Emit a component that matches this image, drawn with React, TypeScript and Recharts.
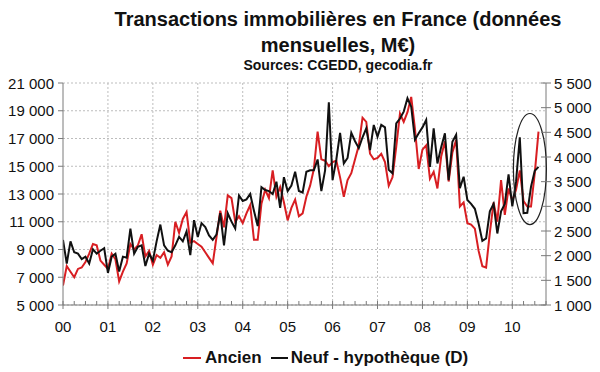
import React from 'react';
import { LineChart, Line, XAxis, YAxis, CartesianGrid, ReferenceLine, ReferenceDot, Legend } from 'recharts';

// Monthly values, Jan 2000 .. Aug 2010
const ancien = [
  6400, 7800, 7400, 7000, 7600, 7700, 8100, 8700, 9400, 9300, 8200, 7900,
  7600, 8700, 8300, 6700, 7400, 8000, 9400, 9000, 9300, 10100, 8500, 8900,
  7900, 8600, 8400, 8800, 7900, 8500, 11000, 10200, 11200, 11700, 9500, 9600,
  9400, 9200, 8800, 8400, 8000, 9900, 11800, 10600, 12900, 12700, 11000, 11400,
  10900, 11600, 12200, 9700, 9700, 12300, 13300, 12700, 14700, 12800, 13500, 12400,
  11100, 12000, 12600, 11400, 11600, 12800, 13600, 14800, 17500, 15500, 15400, 15000,
  15300, 15400, 14200, 12800, 14000, 14500, 15500, 16500, 18500, 18200, 15900, 15500,
  15600, 15900, 15300, 13600, 14200, 16400, 18800, 18200, 18900, 20000, 17700, 14800,
  16200, 16500, 14100, 14600, 13400, 15700, 16800, 13900, 16000, 16900, 12100, 12400,
  10900, 10800, 10500, 8900, 7800, 7700, 10200, 12400, 11000, 14000, 11500, 13400,
  12500, 13300, 14700, 12500, 12100, 12100, 14500, 17500,
];

const neufHypotheque = [
  2320, 1840, 2290, 2070, 2040, 1930, 1980, 1840, 2130, 2040, 2100, 2150,
  1650, 1980, 2040, 1680, 1980, 1960, 2550, 2040, 2180, 2210, 1790, 2040,
  1900, 2290, 2630, 2210, 2100, 2070, 2210, 2380, 2290, 2490, 2010, 2720,
  2380, 2660, 2580, 2410, 2320, 2430, 2860, 2210, 2860, 2690, 2550, 3220,
  3110, 3140, 3250, 2910, 2600, 3390, 3330, 3310, 3250, 3500, 2970, 3590,
  3310, 3420, 3700, 3310, 3280, 3700, 3730, 3730, 3950, 3310, 3730, 5110,
  3530, 3950, 4490, 3870, 3980, 4490, 4320, 4180, 4400, 4580, 4140, 4650,
  4410, 4650, 4600, 3740, 3670, 4680, 4780, 4920, 5190, 5020, 4350, 4480,
  4600, 4750, 3800, 4580, 3870, 4200, 4480, 3530, 4310, 4450, 3370, 3600,
  3130, 3050, 2950, 2650, 2300, 2350, 2900, 3050, 2450, 2900, 3050, 3650,
  3000, 3500, 4400, 2860, 2870, 3400, 3720, 3800,
];

const yearLabels = ['00', '01', '02', '03', '04', '05', '06', '07', '08', '09', '10'];
const leftTicks = [5000, 7000, 9000, 11000, 13000, 15000, 17000, 19000, 21000];
const rightTicks = [1000, 1500, 2000, 2500, 3000, 3500, 4000, 4500, 5000, 5500];
const monthTicks = [
  0, 3, 6, 9, 12, 15, 18, 21, 24, 27, 30, 33, 36, 39, 42, 45, 48, 51, 54, 57, 60, 63,
  66, 69, 72, 75, 78, 81, 84, 87, 90, 93, 96, 99, 102, 105, 108, 111, 114, 117, 120,
  123, 126, 129,
];
const yearStarts = [12, 24, 36, 48, 60, 72, 84, 96, 108, 120];

// ellipse annotation centre (month index, left-axis value)
const circleMonth = 124.7;
const circleValue = 14800;

const data = ancien.map((v, i) => ({ m: i, ancien: v, neuf: neufHypotheque[i] }));

const FONT = 'Arial, "Liberation Sans", sans-serif';
const AXIS_COLOR = '#7a7a7a';
const RED = '#d81e22';
const TICK_FONT = 15;

const fmt = (v: number) => {
  const s = String(v);
  return s.length > 3 ? s.slice(0, s.length - 3) + ' ' + s.slice(s.length - 3) : s;
};

const XTick = (props: any) => {
  const { x, y, payload } = props;
  const major = payload.value % 12 === 0;
  const idx = payload.value / 12;
  return (
    <g>
      <line x1={x} x2={x} y1={y - 4} y2={major ? y + 4 : y} stroke={AXIS_COLOR} strokeWidth={1} />
      {major && idx < yearLabels.length ? (
        <text x={x} y={y + 21} textAnchor="middle" dominantBaseline="central" fontSize={TICK_FONT} fontFamily={FONT} fill="#111">
          {yearLabels[idx]}
        </text>
      ) : null}
    </g>
  );
};

const LeftTick = (props: any) => {
  const { x, y, payload } = props;
  return (
    <g>
      <line x1={x - 5} x2={x} y1={y} y2={y} stroke={AXIS_COLOR} strokeWidth={1} />
      <text x={x - 9} y={y} textAnchor="end" dominantBaseline="central" fontSize={TICK_FONT} fontFamily={FONT} fill="#111">
        {fmt(payload.value)}
      </text>
    </g>
  );
};

const RightTick = (props: any) => {
  const { x, y, payload } = props;
  return (
    <g>
      <line x1={x - 5} x2={x + 5} y1={y} y2={y} stroke={AXIS_COLOR} strokeWidth={1} />
      <text x={x + 8} y={y} textAnchor="start" dominantBaseline="central" fontSize={TICK_FONT} fontFamily={FONT} fill="#111">
        {fmt(payload.value)}
      </text>
    </g>
  );
};

const LegendContent = () => (
  <div
    style={{
      display: 'flex',
      alignItems: 'center',
      paddingLeft: 183,
      paddingTop: 11,
      fontFamily: FONT,
      fontWeight: 'bold',
      fontSize: 17,
      color: '#111',
      whiteSpace: 'nowrap',
    }}
  >
    <span style={{ display: 'inline-block', width: 18, height: 2, background: RED, marginRight: 4 }} />
    <span style={{ marginRight: 9 }}>Ancien</span>
    <span style={{ display: 'inline-block', width: 17, height: 2, background: '#111', marginRight: 3 }} />
    <span>Neuf - hypothèque (D)</span>
  </div>
);

export default function App() {
  return (
    <div style={{ position: 'absolute', left: 0, top: 0, width: 600, height: 372, background: '#fff' }}>
      <div
        style={{
          position: 'absolute', left: 38, top: 7, width: 600, textAlign: 'center',
          fontFamily: FONT, fontWeight: 'bold', fontSize: 20, lineHeight: '24px', color: '#111',
        }}
      >
        <div>Transactions immobilières en France (données</div>
        <div style={{ marginTop: 2 }}>mensuelles, M€)</div>
      </div>
      <div
        style={{
          position: 'absolute', left: 38, top: 57, width: 600, textAlign: 'center',
          fontFamily: FONT, fontWeight: 'bold', fontSize: 14, lineHeight: '16px', color: '#111',
        }}
      >
        Sources: CGEDD, gecodia.fr
      </div>
      <LineChart width={600} height={372} data={data} margin={{ top: 83, right: 8, left: 0, bottom: 0 }}>
        <CartesianGrid yAxisId="left" vertical={false} stroke="#bdbdbd" strokeDasharray="2 2" />
        <XAxis
          dataKey="m"
          type="number"
          domain={[0, 129]}
          ticks={monthTicks}
          interval={0}
          height={32}
          tickSize={0}
          tickMargin={0}
          tickLine={false}
          tick={<XTick />}
          axisLine={{ stroke: AXIS_COLOR }}
          allowDataOverflow
        />
        <YAxis
          yAxisId="left"
          orientation="left"
          width={63}
          domain={[5000, 21000]}
          ticks={leftTicks}
          interval={0}
          tickSize={0}
          tickMargin={0}
          tickLine={false}
          tick={<LeftTick />}
          axisLine={{ stroke: AXIS_COLOR }}
        />
        <YAxis
          yAxisId="right"
          orientation="right"
          width={46}
          domain={[1000, 5500]}
          ticks={rightTicks}
          interval={0}
          tickSize={0}
          tickMargin={0}
          tickLine={false}
          tick={<RightTick />}
          axisLine={{ stroke: AXIS_COLOR }}
        />
        {yearStarts.map((m) => (
          <ReferenceLine key={m} x={m} yAxisId="left" stroke="#bdbdbd" strokeDasharray="2 2" />
        ))}
        <Legend verticalAlign="bottom" height={35} content={<LegendContent />} wrapperStyle={{ left: 0, width: 600 }} />
        <Line
          yAxisId="left"
          type="linear"
          dataKey="ancien"
          name="Ancien"
          stroke={RED}
          strokeWidth={2}
          dot={false}
          isAnimationActive={false}
        />
        <Line
          yAxisId="right"
          type="linear"
          dataKey="neuf"
          name="Neuf - hypothèque (D)"
          stroke="#111"
          strokeWidth={2}
          dot={false}
          isAnimationActive={false}
        />
        <ReferenceDot
          yAxisId="left"
          x={circleMonth}
          y={circleValue}
          shape={(p: any) => (
            <ellipse cx={p.cx} cy={p.cy} rx={16.5} ry={55.5} fill="none" stroke="#222" strokeWidth={1.2} />
          )}
        />
      </LineChart>
    </div>
  );
}
